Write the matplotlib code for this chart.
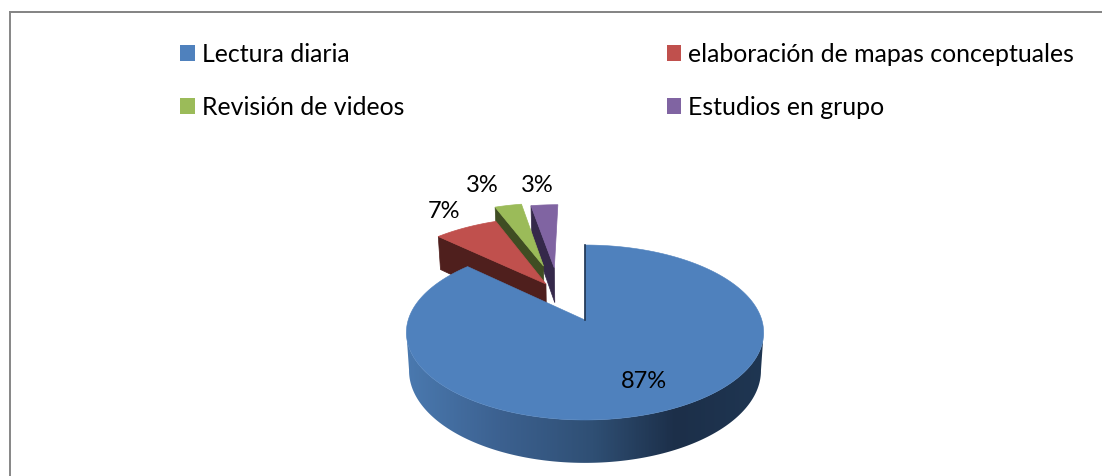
import numpy as np
import matplotlib
matplotlib.use("Agg")
import matplotlib.pyplot as plt
from matplotlib.patches import Rectangle, Polygon
from matplotlib.colors import LinearSegmentedColormap

categories = ["Lectura diaria", "elaboración de mapas conceptuales", "Revisión de videos", "Estudios en grupo"]
values = [87, 7, 3, 3]
labels = ["87%", "7%", "3%", "3%"]

colors = ["#4f81bd", "#c0504d", "#9bbb59", "#8064a2"]
dark_colors = ["#1f3552", "#4f1f1d", "#3f4d23", "#35294a"]

# how far each slice is pulled out, in pie radii (x, y on the disc)
offsets = [(0, 0), (-0.235, 0.447), (-0.258, 0.692), (-0.19, 0.665)]
label_pos = [(644, 382), (444, 211), (482, 185), (537, 185)]

# perspective of the disc, pixels
CX, CY = 585, 320
RX, RY = 176.8, 85.7
TILT = 1 / 7
DEPTH = 37.5
BOTTOM_X = 0.985
BOTTOM_Y = 1.054

wall_cmap = LinearSegmentedColormap.from_list(
    "wall", [(0, "#4a79af"), (0.26, "#3c6190"), (0.52, "#2f4f74"), (0.75, "#1c2f49"), (1, "#1f3652")])


def project(u, v, bottom=False):
    w = 1 + TILT * v
    px, py = u / w, v / w
    if bottom:
        return CX + BOTTOM_X * RX * px, CY + DEPTH - BOTTOM_Y * RY * py
    return CX + RX * px, CY - RY * py


def slice_angles():
    edges = np.cumsum([0] + values) / sum(values) * 2 * np.pi
    return list(zip(edges[:-1], edges[1:]))


def rim(a0, a1, off):
    t = np.linspace(a0, a1, max(int(np.degrees(a1 - a0)), 2) + 1)
    return off[0] + np.sin(t), off[1] + np.cos(t)


plt.rcParams["font.family"] = ["Lato", "DejaVu Sans"]

fig = plt.figure(figsize=(11.02, 4.76), dpi=100)
ax = fig.add_axes([0, 0, 1, 1])
ax.axis("off")

# chart border: only top and left are inside the crop
ax.plot([9.5, 1102, 9.5, 9.5], [11.5, 11.5, 11.5, 476], color="#868686", linewidth=1.4, zorder=1)

angles = slice_angles()

# back to front, so the blue slice covers the others
for i in [3, 2, 1]:
    a0, a1 = angles[i]
    off = offsets[i]
    us, vs = rim(a0, a1, off)
    # side wall on the visible radial edge
    xt, yt = project(np.array([off[0] + np.sin(a0), off[0]]), np.array([off[1] + np.cos(a0), off[1]]))
    xb, yb = project(np.array([off[0], off[0] + np.sin(a0)]), np.array([off[1], off[1] + np.cos(a0)]), bottom=True)
    ax.fill(np.r_[xt, xb], np.r_[yt, yb], color=dark_colors[i], linewidth=0.5, zorder=5 - i)
    x, y = project(np.r_[off[0], us], np.r_[off[1], vs])
    ax.fill(x, y, color=colors[i], linewidth=0.5, zorder=5 - i)

# blue slice: front wall with its gradient, then the top
a0, a1 = angles[0]
us, vs = rim(a0, a1, offsets[0])
xt, yt = project(us, vs)
xb, yb = project(us, vs, bottom=True)
right, left = np.argmax(xt), np.argmin(xt)
wall_x = np.r_[xt[right:left + 1], xb[right:left + 1][::-1]]
wall_y = np.r_[yt[right:left + 1], yb[right:left + 1][::-1]]
wall = Polygon(np.c_[wall_x, wall_y], closed=True, transform=ax.transData, facecolor="none", edgecolor="none")
ax.add_patch(wall)
grad = ax.imshow(np.linspace(0, 1, 360).reshape(1, -1), cmap=wall_cmap, aspect="auto",
                 extent=(406, 766, 480, 230), zorder=6, interpolation="bilinear")
grad.set_clip_path(wall)
x, y = project(np.r_[0, us], np.r_[0, vs])
ax.fill(x, y, color=colors[0], linewidth=0.4, zorder=7)
ax.plot(x[:2], y[:2], color=dark_colors[0], linewidth=1.2, zorder=7)

ax.set_xlim(0, 1102)
ax.set_ylim(476, 0)

for lab, (lx, ly) in zip(labels, label_pos):
    ax.text(lx, ly, lab, fontsize=17, color="black", ha="center", va="center", zorder=10)

handles = [Rectangle((0, 0), 1, 1, facecolor=c, edgecolor="none") for c in colors]
order = [0, 2, 1, 3]
ax.legend([handles[i] for i in order], [categories[i] for i in order],
          ncol=2, frameon=False, fontsize=17.9, loc="upper left",
          bbox_to_anchor=(180 / 1102, 1 - 43 / 476),
          handlelength=0.6, handleheight=0.6, handletextpad=0.28,
          columnspacing=10.55, labelspacing=1.2, borderpad=0, borderaxespad=0)

plt.savefig("out.png", dpi=100)
plt.close()
